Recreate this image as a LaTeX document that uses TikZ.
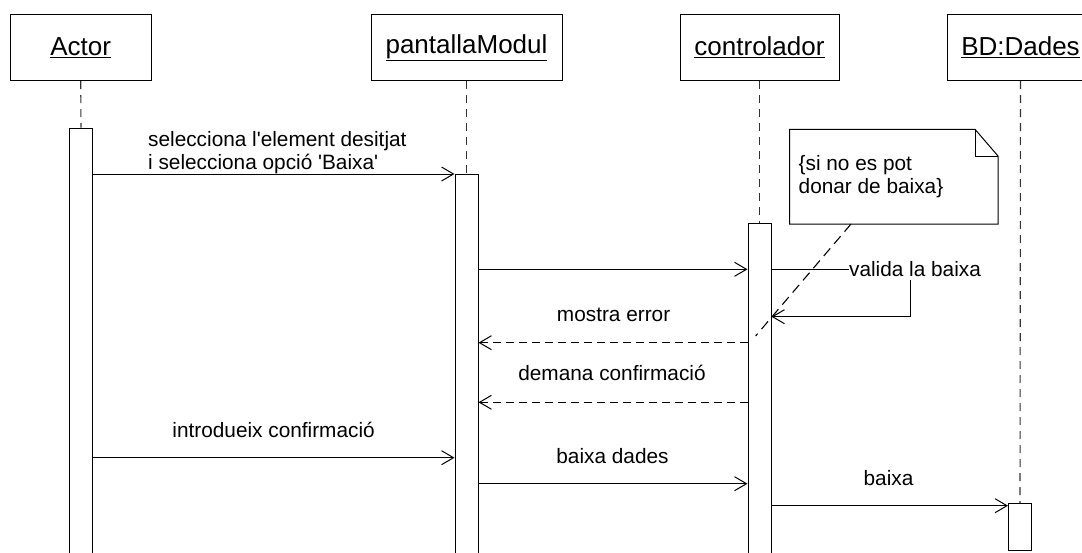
\documentclass[tikz,border=0pt]{standalone}
\usepackage{fontspec}
\setmainfont{Liberation Sans}
\usetikzlibrary{arrows.meta}

\tikzset{
  objbox/.style={draw, line width=1pt, minimum height=66.7pt, inner sep=0pt, font=\fontsize{26}{30}\selectfont},
  lifeline/.style={draw=black!80, line width=1.1pt, dash pattern=on 8pt off 6pt},
  actbar/.style={draw, fill=white, line width=1pt, minimum width=23pt, inner sep=0pt, anchor=north},
  msg/.style={line width=1pt, -{Straight Barb[length=12pt,width=14pt]}},
  reply/.style={msg, dash pattern=on 8pt off 5pt},
  lbl/.style={font=\fontsize{20.8}{23}\selectfont, inner sep=0pt, align=left},
}

\begin{document}
\begin{tikzpicture}[x=1pt,y=-1pt]
		\clip (0,0) rectangle (1082,552);
		\fill[white] (0,0) rectangle (1082,552);

		% the objects
		\node[objbox, minimum width=141pt] (actor) at (80.7,47.35) {\underline{Actor}};
		\node[objbox, minimum width=191pt] (pantalla) at (466.5,47.35) {\underline{pantallaModul}};
		\node[objbox, minimum width=159pt] (ctrl) at (759.5,47.35) {\underline{controlador}};
		\node[objbox, minimum width=147pt] (bd) at (1020.5,47.35) {\underline{BD:Dades}};

		% activation bars
		\node[actbar, minimum height=432.5pt] (barA) at (81,127.5) {};
		\node[actbar, minimum height=386pt] (barP) at (466.5,174) {};
		\node[actbar, minimum height=337.3pt] (barC) at (759.5,222.7) {};
		\node[actbar, minimum height=47pt] (barD) at (1020,503) {};

		% lifelines
		\draw[lifeline] (actor.south) -- (barA.north);
		\draw[lifeline] (pantalla.south) -- (barP.north);
		\draw[lifeline] (ctrl.south) -- (barC.north);
		\draw[lifeline] (bd.south) -- (barD.north);

		% the note
		\filldraw[fill=white, line width=1pt] (789.6,129.3) -- (975,129.3) -- (998,156) -- (998,224) -- (789.6,224) -- cycle;
		\draw[line width=1pt] (975,129.3) -- (975,156) -- (998,156);
		\node[lbl, anchor=west] (notetext) at (798.5,176.5) {\{si no es pot\\donar de baixa\}};
		\coordinate (notefoot) at (851,224);

		% messages
		\draw[msg] (barA.east |- 0,174) -- (barP.west |- 0,174);
		\node[lbl, anchor=west] (m1) at (148,153) {selecciona l\textquotesingle element desitjat\\i selecciona opció \textquotesingle Baixa\textquotesingle};

		\draw[msg] (barP.east |- 0,269.3) -- (barC.west |- 0,269.3);

		% self call
		\draw[msg] (barC.east |- 0,269.3) -- (910,269.3) -- (910,316.7) -- (barC.east |- 0,316.7);
		\node[lbl, fill=white, inner ysep=3pt] (valida) at (915,269.3) {valida la baixa};

		\draw[reply] (barC.west |- 0,342.7) -- (barP.east |- 0,342.7);
		\node[lbl] (m3) at (613.6,315) {mostra error};

		\draw[reply] (barC.west |- 0,402.3) -- (barP.east |- 0,402.3);
		\node[lbl] (m4) at (612,373) {demana confirmació};

		\draw[msg] (barA.east |- 0,457.7) -- (barP.west |- 0,457.7);
		\node[lbl] (m5) at (273.6,430) {introdueix confirmació};

		\draw[msg] (barP.east |- 0,483.7) -- (barC.west |- 0,483.7);
		\node[lbl] (m6) at (612.5,456) {baixa dades};

		\draw[msg] (barC.east |- 0,505.7) -- (barD.west |- 0,505.7);
		\node[lbl] (m7) at (888.5,478) {baixa};

		% note link
		\coordinate (linkend) at (755.6,336);
		\draw[line width=1.1pt, dash pattern=on 10pt off 6pt] (notefoot) -- (linkend);
	\end{tikzpicture}
\end{document}
